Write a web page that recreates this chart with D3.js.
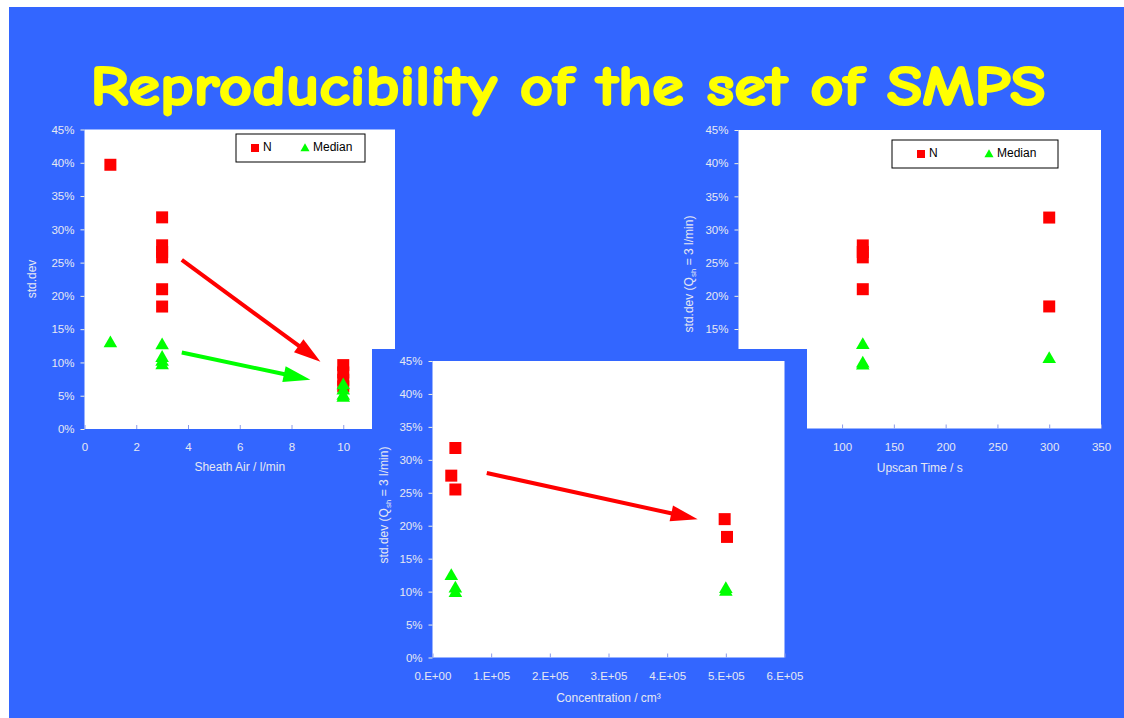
<!DOCTYPE html>
<html>
<head>
<meta charset="utf-8">
<script src="https://cdn.jsdelivr.net/npm/d3@7"></script>
<style>
  body { margin: 0; background: #fff; }
  svg { display: block; }
  .tick text { font-family: "Liberation Sans", Arial, sans-serif; font-size: 11.5px; fill: #e6e8f2; }
</style>
</head>
<body>
<div id="chart"></div>
<script>
// ---- data (std.dev as fraction) ----
const yTicks = [0, 0.05, 0.10, 0.15, 0.20, 0.25, 0.30, 0.35, 0.40, 0.45];

// sheath air flow chart
const sheathTicks = [0, 2, 4, 6, 8, 10, 12];
const sheathN = [[1, 0.397], [3, 0.318], [3, 0.276], [3, 0.266], [3, 0.258], [3, 0.210], [3, 0.184],
                 [10, 0.096], [10, 0.085], [10, 0.074], [10, 0.064]];
const sheathMedian = [[1, 0.131], [3, 0.128], [3, 0.109], [3, 0.103], [3, 0.098],
                      [10, 0.068], [10, 0.060], [10, 0.052], [10, 0.049]];
const sheathArrows = [[[3.76, 0.254], [9.12, 0.101], "#ff0000"], [[3.76, 0.115], [8.73, 0.074], "#00ff00"]];

// upscan time chart
const upscanTicks = [0, 50, 100, 150, 200, 250, 300, 350];
const upscanN = [[120, 0.276], [120, 0.266], [120, 0.258], [120, 0.210], [300, 0.318], [300, 0.184]];
const upscanMedian = [[120, 0.128], [120, 0.100], [120, 0.097], [300, 0.107]];

// concentration chart
const concTicks = [0, 1e5, 2e5, 3e5, 4e5, 5e5, 6e5];
const concN = [[3.2e4, 0.276], [3.9e4, 0.318], [3.9e4, 0.255], [4.98e5, 0.210], [5.02e5, 0.183]];
const concMedian = [[3.2e4, 0.126], [3.9e4, 0.107], [3.9e4, 0.100], [5.0e5, 0.106], [5.0e5, 0.102]];
const concArrows = [[[0.925e5, 0.280], [4.52e5, 0.210], "#ff0000"]];

const W = 1124, H = 718;
const BLUE = "#3366ff", LABEL = "#e6e8f2";
const FONT = '"Liberation Sans", Arial, sans-serif';

const svg = d3.select("#chart").append("svg")
    .attr("width", W)
    .attr("height", H);

svg.append("rect").attr("width", W).attr("height", H).attr("fill", "#fff");
svg.append("rect").attr("x", 9).attr("y", 7).attr("width", W - 9).attr("height", H - 7).attr("fill", BLUE);

// slide title (comic style font is not installed, so thicken a fallback with a stroke)
svg.append("text")
    .attr("x", 568).attr("y", 105)
    .attr("text-anchor", "middle")
    .attr("textLength", 955)
    .attr("lengthAdjust", "spacingAndGlyphs")
    .style("font-family", '"Comic Sans MS", "Comic Neue", "DejaVu Sans", sans-serif')
    .style("font-weight", "bold")
    .style("font-size", "57px")
    .attr("fill", "#ffff00")
    .attr("stroke", "#ffff00")
    .attr("stroke-width", 2)
    .attr("stroke-linejoin", "round")
    .text("Reproducibility of the set of SMPS");

function sciFmt(d) {
  if (d === 0) return "0.E+00";
  const e = Math.floor(Math.log10(d));
  return Math.round(d / 10 ** e) + ".E+" + String(e).padStart(2, "0");
}

function arrow(g, x1, y1, x2, y2, color) {
  const len = Math.hypot(x2 - x1, y2 - y1), ux = (x2 - x1) / len, uy = (y2 - y1) / len;
  const head = 27, hw = 8;
  const bx = x2 - ux * head, by = y2 - uy * head;
  g.append("line")
      .attr("x1", x1).attr("y1", y1).attr("x2", bx + ux * 2).attr("y2", by + uy * 2)
      .attr("stroke", color).attr("stroke-width", 4);
  g.append("path")
      .attr("d", `M${x2},${y2}L${bx - uy * hw},${by + ux * hw}L${bx + uy * hw},${by - ux * hw}Z`)
      .attr("fill", color);
}

const square = d3.symbol().type(d3.symbolSquare).size(144);
const triangle = d3.symbol().type(d3.symbolTriangle).size(80);

function drawChart(c) {
  const g = svg.append("g");
  if (c.panel) {
    g.append("rect").attr("x", c.panel[0]).attr("y", c.panel[1])
        .attr("width", c.panel[2] - c.panel[0]).attr("height", c.panel[3] - c.panel[1])
        .attr("fill", BLUE);
  }
  const [px0, py0, px1, py1] = c.plot;
  g.append("rect").attr("x", px0).attr("y", py0)
      .attr("width", px1 - px0).attr("height", py1 - py0).attr("fill", "#fff");

  const x = d3.scaleLinear().domain(c.xDomain).range([px0, px1]);
  const y = d3.scaleLinear().domain([0, 0.45]).range([py1, py0]);

  const ya = g.append("g").attr("transform", `translate(${px0},0)`)
      .call(d3.axisLeft(y).tickValues(yTicks).tickFormat(d3.format(".0%")).tickSize(4).tickPadding(6));
  ya.select(".domain").remove();
  ya.selectAll(".tick line").attr("stroke", "#f2f2dc");

  const xa = g.append("g").attr("transform", `translate(0,${py1})`)
      .call(d3.axisBottom(x).tickValues(c.xTicks).tickFormat(c.xFormat).tickSizeInner(-4).tickSizeOuter(0).tickPadding(14));
  xa.select(".domain").remove();
  xa.selectAll(".tick line").attr("stroke", "#8a9ae8");

  g.append("text")
      .attr("x", (px0 + px1) / 2 + (c.xTitleShift || 0)).attr("y", c.xTitleY)
      .attr("text-anchor", "middle")
      .style("font-family", FONT).style("font-size", "12px").attr("fill", LABEL)
      .text(c.xTitle);

  const yt = g.append("text")
      .attr("transform", `translate(${c.yTitlePos[0]},${c.yTitlePos[1]}) rotate(-90)`)
      .attr("text-anchor", "middle")
      .style("font-family", FONT).style("font-size", "12px").attr("fill", LABEL);
  if (c.qsh) {
    yt.append("tspan").text("std.dev (Q");
    yt.append("tspan").attr("dy", 3).style("font-size", "8px").text("sh");
    yt.append("tspan").attr("dy", -3).text(" = 3 l/min)");
  } else {
    yt.text("std.dev");
  }

  (c.arrows || []).forEach(a => arrow(g, x(a[0][0]), y(a[0][1]), x(a[1][0]), y(a[1][1]), a[2]));

  g.append("g").selectAll("path").data(c.n).join("path")
      .attr("transform", d => `translate(${x(d[0])},${y(d[1])})`)
      .attr("d", square).attr("fill", "#ff0000");
  g.append("g").selectAll("path").data(c.median).join("path")
      .attr("transform", d => `translate(${x(d[0])},${y(d[1]) + 1.5})`)
      .attr("d", triangle).attr("fill", "#00ff00");

  if (c.legend) {
    const [lx0, ly0, lx1, ly1] = c.legend;
    const lg = g.append("g");
    lg.append("rect").attr("x", lx0).attr("y", ly0).attr("width", lx1 - lx0).attr("height", ly1 - ly0)
        .attr("fill", "#fff").attr("stroke", "#000").attr("stroke-width", 1);
    const cy = (ly0 + ly1) / 2 - 1;
    lg.append("rect").attr("x", c.legendX[0] - 4).attr("y", cy - 3).attr("width", 8).attr("height", 8).attr("fill", "#ff0000");
    lg.append("text").attr("x", c.legendX[0] + 8).attr("y", cy + 4)
        .style("font-family", FONT).style("font-size", "12px").attr("fill", "#000").text("N");
    lg.append("path").attr("transform", `translate(${c.legendX[1]},${cy + 1.5})`)
        .attr("d", d3.symbol().type(d3.symbolTriangle).size(36)).attr("fill", "#00ff00");
    lg.append("text").attr("x", c.legendX[1] + 8).attr("y", cy + 4)
        .style("font-family", FONT).style("font-size", "12px").attr("fill", "#000").text("Median");
  }
}

// left: sheath air
drawChart({
  plot: [84.5, 129.5, 395, 429],
  xDomain: [0, 12], xTicks: sheathTicks, xFormat: d3.format("d"),
  xTitle: "Sheath Air / l/min", xTitleY: 471,
  yTitlePos: [36, 279],
  n: sheathN, median: sheathMedian, arrows: sheathArrows,
  legend: [236, 134, 365, 162], legendX: [255, 305]
});

// right: upscan time
drawChart({
  plot: [738.5, 130, 1101, 428.5],
  xDomain: [0, 350], xTicks: upscanTicks, xFormat: d3.format("d"),
  xTitle: "Upscan Time / s", xTitleY: 472,
  yTitlePos: [693, 274], qsh: true,
  n: upscanN, median: upscanMedian,
  legend: [892, 140, 1058, 168], legendX: [921, 989]
});

// center: concentration (panel on top of the other two)
drawChart({
  panel: [372, 349, 807, 718],
  plot: [432.5, 361, 784.5, 657.5],
  xDomain: [0, 6e5], xTicks: concTicks, xFormat: sciFmt,
  xTitle: "Concentration / cm³", xTitleY: 702,
  yTitlePos: [388, 505], qsh: true,
  n: concN, median: concMedian, arrows: concArrows
});
</script>
</body>
</html>
